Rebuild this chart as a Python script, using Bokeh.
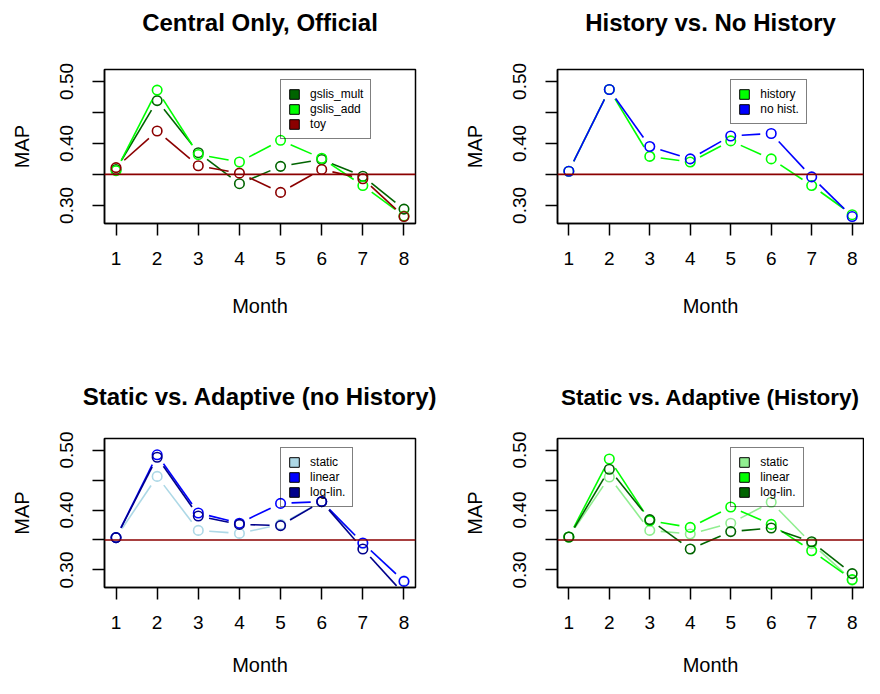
import math
from bokeh.plotting import figure
from bokeh.models import (Range1d, FixedTicker, Span, Legend, LegendItem,
                          ColumnDataSource, LinearAxis)
from bokeh.layouts import row, column
from bokeh.embed import file_html
from bokeh.resources import INLINE

# ---------------- data ----------------
MONTHS = [1, 2, 3, 4, 5, 6, 7, 8]
X_TICKS = [1, 2, 3, 4, 5, 6, 7, 8]
Y_TICKS = [0.30, 0.35, 0.40, 0.45, 0.50]
Y_TICK_LABELS = {0.30: "0.30", 0.35: "", 0.40: "0.40", 0.45: "", 0.50: "0.50"}
X_LIM = (0.72, 8.28)
Y_LIM = (0.2708, 0.5192)
BASELINE = 0.35
LEGEND_X = 5.0
LEGEND_Y = 0.50

# Panel 1: Central Only, Official
gslis_mult = [0.358, 0.469, 0.385, 0.335, 0.363, 0.374, 0.347, 0.294]
gslis_add = [0.356, 0.486, 0.382, 0.370, 0.405, 0.376, 0.332, 0.283]
toy = [0.361, 0.420, 0.364, 0.352, 0.321, 0.358, 0.343, 0.282]

# Panel 2: History vs. No History
history = [0.355, 0.487, 0.379, 0.370, 0.404, 0.375, 0.332, 0.285]
no_hist = [0.355, 0.487, 0.395, 0.375, 0.412, 0.416, 0.346, 0.282]

# Panel 3: Static vs. Adaptive (no History)
static_nh = [0.354, 0.456, 0.366, 0.361, 0.376, 0.414, 0.344, 0.282]
linear_nh = [0.354, 0.492, 0.395, 0.378, 0.411, 0.414, 0.345, 0.281]
loglin_nh = [0.354, 0.488, 0.390, 0.376, 0.374, 0.414, 0.335, 0.260]

# Panel 4: Static vs. Adaptive (History)
static_h = [0.355, 0.455, 0.366, 0.360, 0.378, 0.413, 0.344, 0.283]
linear_h = [0.355, 0.485, 0.382, 0.371, 0.405, 0.376, 0.332, 0.284]
loglin_h = [0.355, 0.468, 0.384, 0.335, 0.364, 0.370, 0.347, 0.294]

FONT = "Liberation Sans"
GAP = 11  # px gap between line ends and point centres (R type="b")
NAN = float("nan")


def gapped_segments(xs, ys, sx, sy, gap):
    x0s, y0s, x1s, y1s = [], [], [], []
    for i in range(len(xs) - 1):
        ddx = xs[i + 1] - xs[i]
        ddy = ys[i + 1] - ys[i]
        L = math.hypot(ddx * sx, ddy * sy)
        if L <= 2 * gap:
            continue
        f = gap / L
        x0s.append(xs[i] + ddx * f)
        y0s.append(ys[i] + ddy * f)
        x1s.append(xs[i + 1] - ddx * f)
        y1s.append(ys[i + 1] - ddy * f)
    return dict(x0=x0s, y0=y0s, x1=x1s, y1=y1s)


def make_panel(title, series, names, colors, width, height, left, right, top, bottom,
               title_standoff, title_size, xlabel_standoff):
    fw = width - left - right
    fh = height - top - bottom
    sx = fw / (X_LIM[1] - X_LIM[0])
    sy = fh / (Y_LIM[1] - Y_LIM[0])
    p = figure(width=width, height=height,
               x_range=Range1d(*X_LIM), y_range=Range1d(*Y_LIM),
               output_backend="svg", toolbar_location=None,
               min_border_left=left, min_border_right=right,
               min_border_top=top, min_border_bottom=bottom)
    p.grid.visible = False
    p.background_fill_color = "white"
    p.border_fill_color = "white"
    p.outline_line_color = "black"
    p.outline_line_width = 1.5

    for ax in (p.xaxis[0], p.yaxis[0]):
        ax.axis_line_color = "black"
        ax.axis_line_width = 1.5
        ax.major_tick_line_color = "black"
        ax.major_tick_line_width = 1.5
        ax.major_tick_out = 12
        ax.major_tick_in = 0
        ax.minor_tick_line_color = None
        ax.major_label_text_font = FONT
        ax.major_label_text_font_size = "19px"
        ax.major_label_text_color = "black"
        ax.axis_label_text_font = FONT
        ax.axis_label_text_font_size = "20px"
        ax.axis_label_text_font_style = "normal"
        ax.axis_label_text_color = "black"

    p.xaxis[0].ticker = FixedTicker(ticks=X_TICKS)
    p.xaxis[0].axis_label = "Month"
    p.xaxis[0].major_label_standoff = 16
    p.xaxis[0].axis_label_standoff = xlabel_standoff

    p.yaxis[0].ticker = FixedTicker(ticks=Y_TICKS)
    p.yaxis[0].major_label_overrides = Y_TICK_LABELS
    p.yaxis[0].major_label_orientation = "vertical"
    p.yaxis[0].axis_label = "MAP"
    p.yaxis[0].major_label_standoff = 19
    p.yaxis[0].axis_label_standoff = 25

    # main title: label of a bare axis above the plot box
    tax = LinearAxis(ticker=FixedTicker(ticks=[]), axis_label=title,
                     axis_line_color=None, major_tick_line_color=None,
                     minor_tick_line_color=None, major_tick_out=0, major_tick_in=0,
                     major_label_standoff=0, axis_label_standoff=title_standoff,
                     axis_label_text_font=FONT, axis_label_text_font_style="bold",
                     axis_label_text_font_size=title_size,
                     axis_label_text_color="black")
    p.add_layout(tax, "above")

    items = []
    for ys, name, col in zip(series, names, colors):
        seg = ColumnDataSource(gapped_segments(MONTHS, ys, sx, sy, GAP))
        p.segment(x0="x0", y0="y0", x1="x1", y1="y1", source=seg,
                  line_color=col, line_width=1.6)
        p.scatter(MONTHS, ys, marker="circle", size=9.5, fill_color=None,
                  line_color=col, line_width=1.6)
        # legend swatch renderer (nothing drawn in the plot area)
        dummy = p.quad(left=[NAN], right=[NAN], top=[NAN], bottom=[NAN],
                       fill_color=col, line_color="black", line_width=1)
        items.append(LegendItem(label=name, renderers=[dummy], index=0))

    p.add_layout(Span(location=BASELINE, dimension="width",
                      line_color="#8B0000", line_width=1.6))

    pad = 7
    item_h = 14
    spacing = 1
    n = len(names)
    leg_h = 2 * pad + n * item_h + (n - 1) * spacing
    lx = (LEGEND_X - X_LIM[0]) * sx
    ly_top = (Y_LIM[1] - LEGEND_Y) * sy
    vy = fh - ly_top - leg_h
    legend = Legend(items=items, location=(lx, vy), margin=0,
                    padding=pad, spacing=spacing,
                    glyph_width=12, glyph_height=12, label_height=12,
                    label_standoff=10,
                    label_text_font=FONT, label_text_font_size="12px",
                    label_text_color="black",
                    border_line_color="black", border_line_width=1.5,
                    background_fill_alpha=0.0)
    p.add_layout(legend, "center")
    return p


p1 = make_panel("Central Only, Official", [gslis_mult, gslis_add, toy],
                ["gslis_mult", "gslis_add", "toy"],
                ["#006400", "#00FF00", "#8B0000"],
                440, 330, 104, 25, 69, 107, 34, "24px", 27)
p2 = make_panel("History vs. No History", [history, no_hist],
                ["history", "no hist."],
                ["#00FF00", "#0000FF"],
                424, 330, 117, 1, 69, 107, 34, "24px", 27)
p3 = make_panel("Static vs. Adaptive (no History)", [static_nh, linear_nh, loglin_nh],
                ["static", "linear", "log-lin."],
                ["#ADD8E6", "#0000FF", "#00008B"],
                440, 348, 104, 25, 108, 90, 29, "24px", 22)
p4 = make_panel("Static vs. Adaptive (History)", [static_h, linear_h, loglin_h],
                ["static", "linear", "log-lin."],
                ["#90EE90", "#00FF00", "#006400"],
                424, 348, 117, 1, 108, 90, 29, "22.5px", 22)

layout = column(row(p1, p2, spacing=0), row(p3, p4, spacing=0), spacing=0)

open("out.html", "w").write(file_html(layout, INLINE))
